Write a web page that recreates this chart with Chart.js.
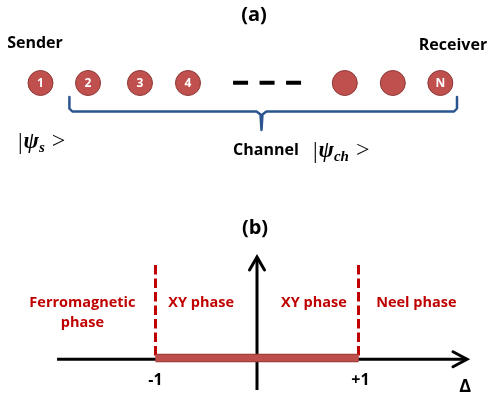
<!DOCTYPE html>
<html>
<head>
<meta charset="utf-8">
<script src="https://cdn.jsdelivr.net/npm/chart.js@4.4.1/dist/chart.umd.min.js"></script>
<style>
  html, body { margin: 0; padding: 0; background: #ffffff; }
  #wrap { position: relative; width: 489px; height: 403px; overflow: hidden; }
  canvas { position: absolute; left: 0; }
  #chain { top: 0; }
  #phases { top: 200px; }
</style>
</head>
<body>
<div id="wrap">
  <canvas id="chain" width="489" height="200"></canvas>
  <canvas id="phases" width="489" height="203"></canvas>
</div>
<script>
// ---- (a) spin chain: sites along the chain ----
const siteLabels = ['1', '2', '3', '4', '', '', 'N'];
const sitePositions = [1, 1.97, 3.03, 4.01, 7.21, 8.19, 9.16];
const ellipsisSpan = [4.93, 6.32];      // the "- - -" between site 4 and the last sites
const channelSpan = [1.59, 9.50];       // sites 2 ... N form the channel
const channelMid = 5.51;

// ---- (b) phase diagram along the anisotropy axis Delta ----
const phaseBoundaries = [-1, 1];
const boundaryLabels = ['-1', '+1'];
const phaseNames = [['Ferromagnetic', 'phase'], ['XY phase'], ['XY phase'], ['Neel phase']];
const phaseCentres = [-1.72, -0.55, 0.56, 1.57];

const RED_DARK = '#c00000';
const SITE_FILL = '#c0504d';
const SITE_EDGE = '#8c3836';
const BRACE = '#2a5590';
const SANS = '"Open Sans", "Noto Sans", sans-serif';
const SERIF = '"Liberation Serif", "DejaVu Serif", serif';

function hiddenScales(xmin, xmax, ymin, ymax) {
  return {
    x: { type: 'linear', min: xmin, max: xmax, display: false },
    y: { type: 'linear', min: ymin, max: ymax, reverse: true, display: false }
  };
}

const baseOptions = {
  responsive: false,
  animation: false,
  devicePixelRatio: 1,
  layout: { padding: 0, autoPadding: false },
  plugins: { legend: { display: false }, tooltip: { enabled: false } },
  events: []
};

function drawText(ctx, text, x, y, font, color, align) {
  ctx.save();
  ctx.font = font;
  ctx.fillStyle = color;
  ctx.textAlign = align || 'center';
  ctx.textBaseline = 'middle';
  ctx.fillText(text, x, y);
  ctx.restore();
}

// |psi_sub > written in a math style, starting at x
function drawKet(ctx, sub, x, y) {
  ctx.save();
  ctx.textBaseline = 'alphabetic';
  ctx.fillStyle = '#000';
  const base = y + 7;
  ctx.font = '23px ' + SERIF;
  ctx.fillText('|', x, base + 1);
  x += ctx.measureText('|').width + 1;
  ctx.font = 'bold italic 23px ' + SERIF;
  ctx.fillText('\u03C8', x, base);
  x += ctx.measureText('\u03C8').width;
  ctx.font = 'bold italic 15px ' + SERIF;
  ctx.fillText(sub, x, base + 4);
  x += ctx.measureText(sub).width + 7;
  ctx.font = '24px ' + SERIF;
  ctx.fillText('>', x, base);
  ctx.restore();
}

// ---------------- (a) ----------------
const braceY = 111.5, braceTop = 97, braceTip = 130;
const braceData = [
  { x: channelSpan[0], y: braceTop },
  { x: channelSpan[0], y: braceY - 3 },
  { x: channelSpan[0] + 0.06, y: braceY },
  { x: channelMid - 0.1, y: braceY },
  { x: channelMid - 0.02, y: braceY + 3 },
  { x: channelMid, y: braceTip },
  { x: channelMid + 0.02, y: braceY + 3 },
  { x: channelMid + 0.1, y: braceY },
  { x: channelSpan[1] - 0.06, y: braceY },
  { x: channelSpan[1], y: braceY - 3 },
  { x: channelSpan[1], y: braceTop }
];

const chainText = {
  id: 'chainText',
  afterDatasetsDraw(chart) {
    const ctx = chart.ctx;
    const xs = chart.scales.x, ys = chart.scales.y;
    // numbers inside the sites
    sitePositions.forEach((p, i) => {
      if (siteLabels[i]) {
        drawText(ctx, siteLabels[i], xs.getPixelForValue(p), ys.getPixelForValue(83.5),
          'bold 12px ' + SANS, '#ffffff');
      }
    });
    drawText(ctx, '(a)', 254, ys.getPixelForValue(15), 'bold 20px ' + SANS, '#000');
    drawText(ctx, 'Sender', xs.getPixelForValue(0.888), ys.getPixelForValue(43), 'bold 16px ' + SANS, '#000');
    drawText(ctx, 'Receiver', xs.getPixelForValue(9.418), ys.getPixelForValue(45), 'bold 16px ' + SANS, '#000');
    drawKet(ctx, 's', xs.getPixelForValue(0.541), ys.getPixelForValue(141));
    drawText(ctx, 'Channel', xs.getPixelForValue(4.929), ys.getPixelForValue(150), 'bold 16px ' + SANS, '#000', 'left');
    drawKet(ctx, 'ch', xs.getPixelForValue(6.56), ys.getPixelForValue(150));
  }
};

new Chart(document.getElementById('chain'), {
  type: 'scatter',
  data: {
    datasets: [
      {
        label: 'sites',
        data: sitePositions.map(p => ({ x: p, y: 83 })),
        pointRadius: 12.5,
        pointBackgroundColor: SITE_FILL,
        pointBorderColor: SITE_EDGE,
        pointBorderWidth: 1,
        showLine: false,
        clip: false
      },
      {
        label: 'ellipsis',
        data: ellipsisSpan.map(p => ({ x: p, y: 82.7 })),
        showLine: true,
        borderColor: '#000',
        borderWidth: 4,
        borderDash: [15, 11.5],
        pointRadius: 0,
        clip: false
      },
      {
        label: 'channel',
        data: braceData,
        showLine: true,
        borderColor: BRACE,
        borderWidth: 2.5,
        borderJoinStyle: 'round',
        borderCapStyle: 'round',
        tension: 0,
        pointRadius: 0,
        clip: false
      }
    ]
  },
  options: Object.assign({}, baseOptions, {
    scales: hiddenScales(1 - 40.5 / 49, 1 + 448.5 / 49, 0, 200)
  }),
  plugins: [chainText]
});

// ---------------- (b) ----------------
const axisY = 159.3;
const unit = 101.5;                // pixels per unit of Delta
const zeroPx = 257;
const dx = px => px / unit;        // pixel offset -> Delta offset

const phaseText = {
  id: 'phaseText',
  afterDatasetsDraw(chart) {
    const ctx = chart.ctx;
    const xs = chart.scales.x, ys = chart.scales.y;
    drawText(ctx, '(b)', 255, ys.getPixelForValue(28), 'bold 20px ' + SANS, '#000');
    phaseNames.forEach((lines, i) => {
      const cx = xs.getPixelForValue(phaseCentres[i]);
      lines.forEach((t, j) => {
        drawText(ctx, t, cx, ys.getPixelForValue(103 + j * 20), 'bold 14.5px ' + SANS, RED_DARK);
      });
    });
    phaseBoundaries.forEach((b, i) => {
      drawText(ctx, boundaryLabels[i], xs.getPixelForValue(b) + (b > 0 ? 2 : 0), ys.getPixelForValue(180),
        'bold 16px ' + SANS, '#000');
    });
    drawText(ctx, '\u0394', xs.getPixelForValue(2.05), ys.getPixelForValue(187), 'bold 18px ' + SANS, '#000');
  }
};

const lineDs = (label, data, color, width, extra) => Object.assign({
  label, data, showLine: true, borderColor: color, borderWidth: width,
  pointRadius: 0, clip: false, tension: 0
}, extra || {});

const axisEnd = 2.069;
new Chart(document.getElementById('phases'), {
  type: 'scatter',
  data: {
    datasets: [
      lineDs('XY band', [{ x: phaseBoundaries[0], y: 158 }, { x: phaseBoundaries[1], y: 158 }],
        'rgba(192,80,77,0.92)', 6.5, { order: 0 }),
      lineDs('XY band edge', [{ x: phaseBoundaries[0], y: 158 }, { x: phaseBoundaries[1], y: 158 }],
        '#9b3b38', 8.5, { order: 1 }),
      ...phaseBoundaries.map((b, i) => lineDs('boundary ' + i, [{ x: b, y: 65 }, { x: b, y: 157 }],
        RED_DARK, 3, { borderDash: [9.5, 4], order: 2 })),
      lineDs('Delta axis', [{ x: -1.97, y: axisY }, { x: axisEnd, y: axisY }], '#000', 3, { order: 3 }),
      lineDs('Delta arrow', [{ x: axisEnd - dx(14), y: axisY - 7.5 }, { x: axisEnd, y: axisY }, { x: axisEnd - dx(14), y: axisY + 7.5 }],
        '#000', 3, { order: 3, borderCapStyle: 'round', borderJoinStyle: 'miter' }),
      lineDs('energy axis', [{ x: 0, y: 190 }, { x: 0, y: 57 }], '#000', 3, { order: 3 }),
      lineDs('energy arrow', [{ x: -dx(7.5), y: 70 }, { x: 0, y: 57 }, { x: dx(7.5), y: 70 }],
        '#000', 3, { order: 3, borderCapStyle: 'round', borderJoinStyle: 'miter' })
    ]
  },
  options: Object.assign({}, baseOptions, {
    scales: hiddenScales(-zeroPx / unit, (489 - zeroPx) / unit, 0, 203)
  }),
  plugins: [phaseText]
});
</script>
</body>
</html>
